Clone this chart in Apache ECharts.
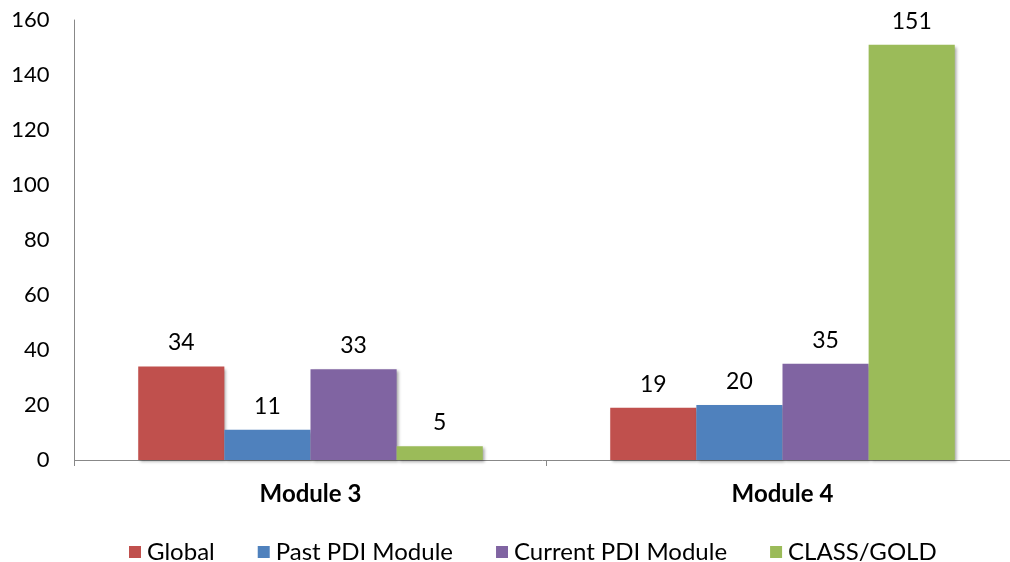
<!DOCTYPE html>
<html>
<head>
<meta charset="utf-8">
<script src="https://cdn.jsdelivr.net/npm/echarts@6/dist/echarts.min.js"></script>
<style>
html, body { margin: 0; padding: 0; background: #fff; }
#chart { width: 1010px; height: 562px; }
</style>
</head>
<body>
<div id="chart"></div>
<script>
// Module scores by group
const categories = ['Module 3', 'Module 4'];
const seriesNames = ['Global', 'Past PDI Module', 'Current PDI Module', 'CLASS/GOLD'];
const globalValues = [34, 19];
const pastPdiValues = [11, 20];
const currentPdiValues = [33, 35];
const classGoldValues = [5, 151];
const yTicks = [0, 20, 40, 60, 80, 100, 120, 140, 160];

const colors = ['#C0504D', '#4F81BD', '#8064A2', '#9BBB59'];
const valueSets = [globalValues, pastPdiValues, currentPdiValues, classGoldValues];
const FONT = 'Lato, "Open Sans", sans-serif';

const chart = echarts.init(document.getElementById('chart'), null, { renderer: 'canvas' });

const series = seriesNames.map((name, i) => ({
  name: name,
  type: 'bar',
  data: valueSets[i],
  barGap: '0%',
  barCategoryGap: '27%',
  itemStyle: {
    color: colors[i],
    shadowColor: 'rgba(0,0,0,0.35)',
    shadowBlur: 3,
    shadowOffsetX: 2,
    shadowOffsetY: 2
  },
  label: {
    show: true,
    position: 'top',
    distance: 12,
    color: '#000',
    fontFamily: FONT,
    fontSize: 23
  }
}));

chart.setOption({
  animation: false,
  color: colors,
  // the plot runs slightly past the right edge of the canvas
  grid: {
    left: 74.5, width: 944, top: 20, height: 440,
    containLabel: false, outerBoundsMode: 'none'
  },
  legend: {
    top: 535,
    left: 124,
    itemWidth: 12,
    itemHeight: 12,
    itemGap: 43,
    icon: 'rect',
    textStyle: { fontFamily: FONT, fontSize: 24, color: '#000', padding: [0, 0, 0, 1] },
    data: seriesNames
  },
  xAxis: {
    type: 'category',
    data: categories,
    axisLine: { lineStyle: { color: '#888', width: 1 } },
    axisTick: { show: true, alignWithLabel: false, length: 6, lineStyle: { color: '#888' } },
    axisLabel: { fontFamily: FONT, fontWeight: 'bold', fontSize: 24, color: '#000', margin: 22 }
  },
  yAxis: {
    type: 'value',
    min: yTicks[0],
    max: yTicks[yTicks.length - 1],
    interval: yTicks[1] - yTicks[0],
    axisLine: { show: true, lineStyle: { color: '#888', width: 1 } },
    axisTick: { show: false },
    splitLine: { show: false },
    axisLabel: { fontFamily: FONT, fontSize: 22, color: '#000', margin: 25 }
  },
  series: series
});
</script>
</body>
</html>
